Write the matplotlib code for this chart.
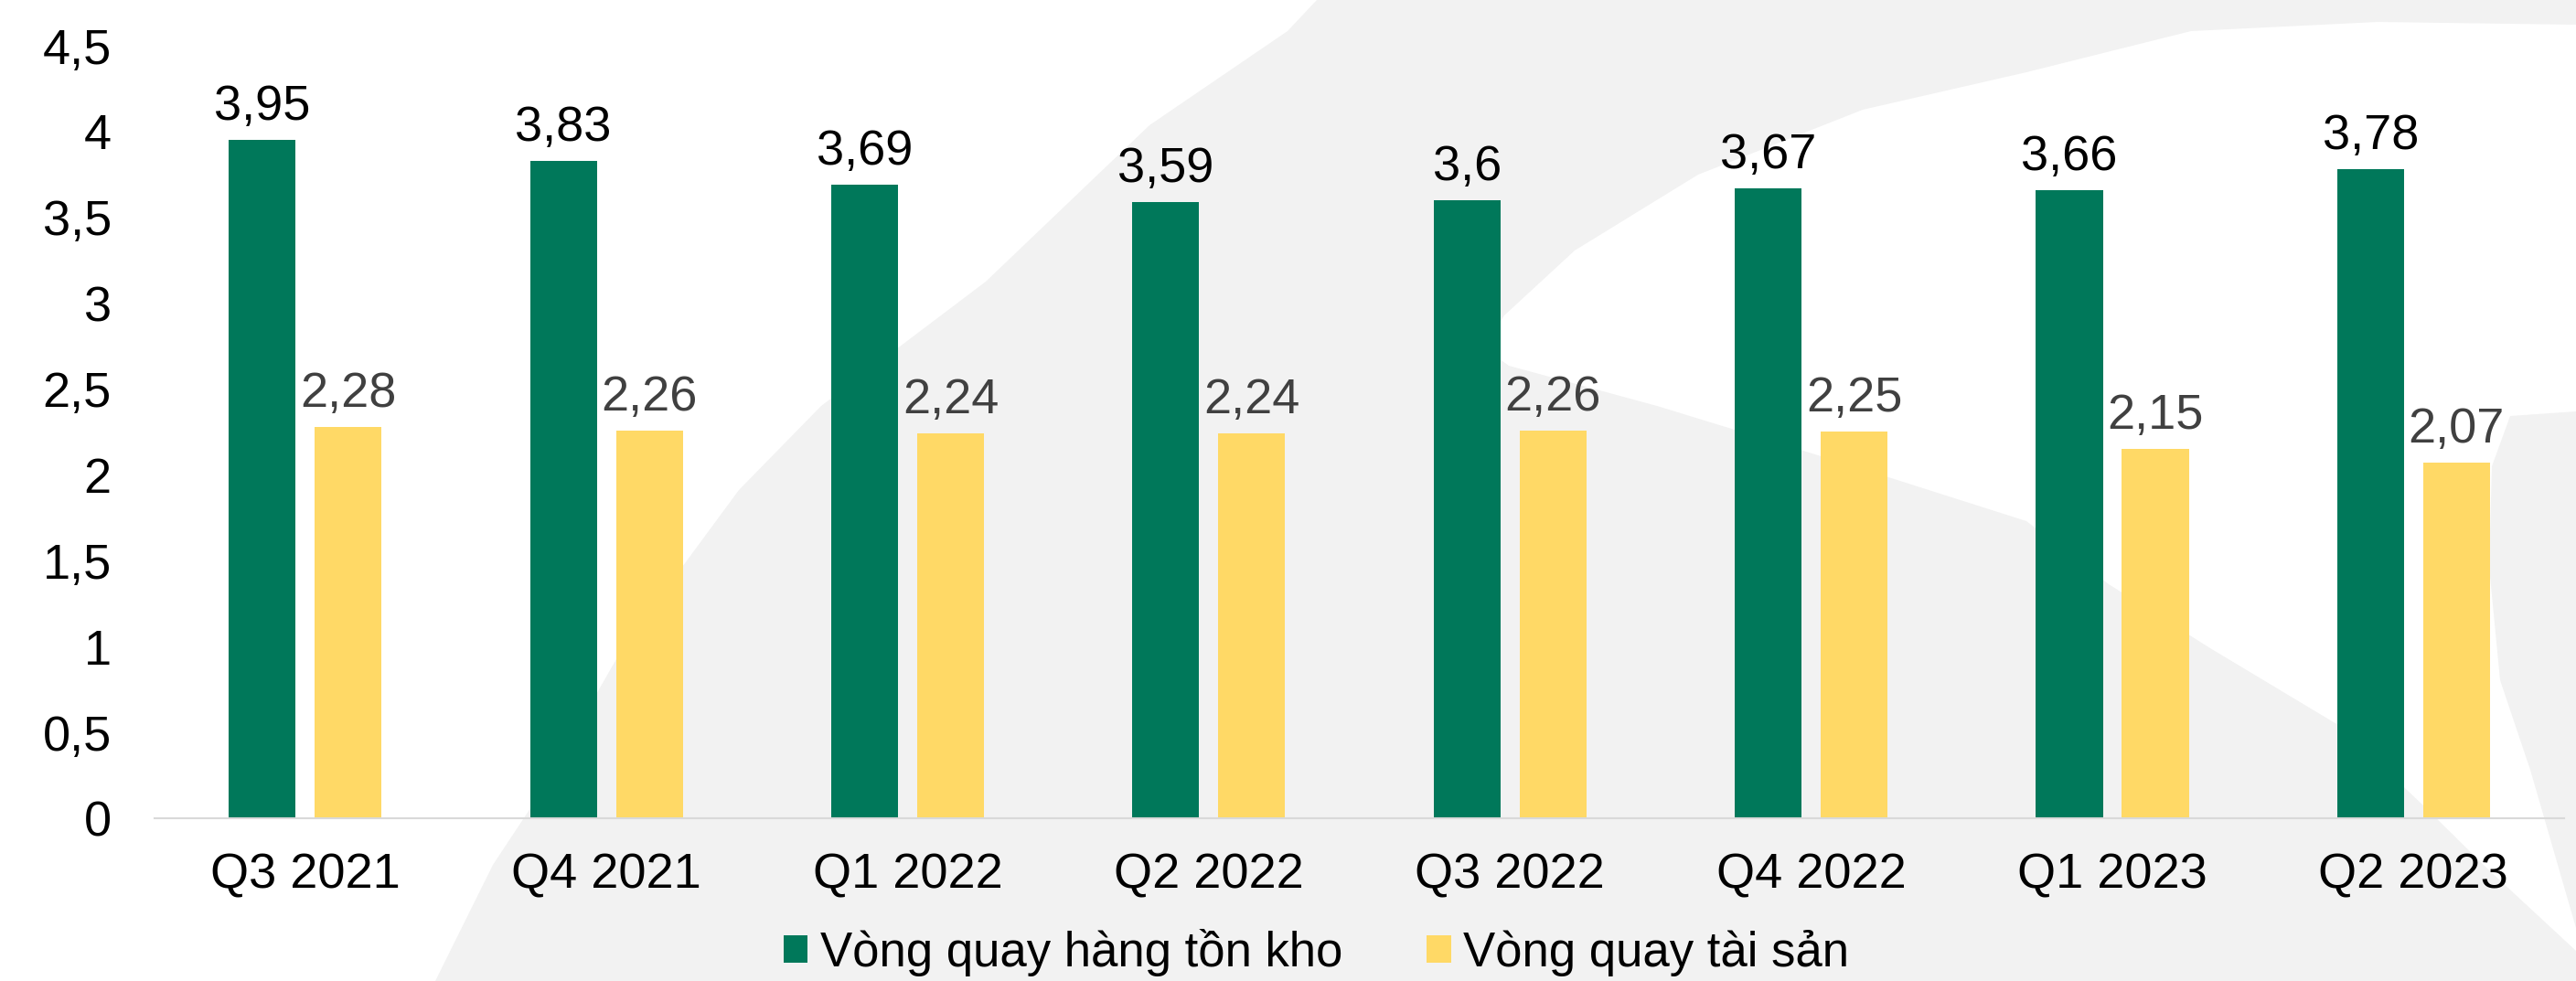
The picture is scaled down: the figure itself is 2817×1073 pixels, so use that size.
import matplotlib
matplotlib.use("Agg")
import matplotlib.pyplot as plt
from matplotlib.patches import Polygon, Patch
import numpy as np

plt.rcParams["font.family"] = ["Liberation Sans", "DejaVu Sans"]

# data
quarters = ["Q3 2021", "Q4 2021", "Q1 2022", "Q2 2022",
            "Q3 2022", "Q4 2022", "Q1 2023", "Q2 2023"]
inventory_turnover = [3.95, 3.83, 3.69, 3.59, 3.6, 3.67, 3.66, 3.78]
asset_turnover = [2.28, 2.26, 2.24, 2.24, 2.26, 2.25, 2.15, 2.07]
series_names = ["Vòng quay hàng tồn kho", "Vòng quay tài sản"]
y_ticks = [0, 0.5, 1, 1.5, 2, 2.5, 3, 3.5, 4, 4.5]

GREEN = "#00785a"
YELLOW = "#ffd966"
GRID = "#d9d9d9"
WM_GREY = "#f2f2f2"

W, H = 2817, 1073

# faint watermark swoosh in the background (pixel coords, y from top)
wm_outer = [(1440, 0), (1408, 34), (1257, 137), (1078, 308), (898, 444),
            (808, 536), (682, 707), (584, 878), (539, 946), (476, 1073),
            (2817, 1073), (2817, 0)]
wm_cut = [(2817, 27), (2600, 24), (2396, 34), (2216, 79), (2037, 120),
          (1857, 191), (1722, 274), (1645, 345), (1622, 380), (1650, 400),
          (1812, 444), (2037, 513), (2216, 570), (2306, 639), (2417, 709),
          (2557, 793), (2650, 881), (2720, 950), (2817, 1040), (2817, 1015),
          (2767, 842), (2734, 744), (2722, 620), (2725, 510), (2745, 455),
          (2817, 450)]

fig = plt.figure(figsize=(W / 100, H / 100), dpi=100)

# background layer for the watermark
bg = fig.add_axes([0, 0, 1, 1], zorder=-1)
bg.set_xlim(0, W)
bg.set_ylim(H, 0)
bg.axis("off")
bg.add_patch(Polygon(wm_outer, closed=True, facecolor=WM_GREY, edgecolor="none"))
bg.add_patch(Polygon(wm_cut, closed=True, facecolor="white", edgecolor="none"))

ax = fig.add_axes([0.0600, 0.1659, 0.9354, 0.7875], zorder=1)
ax.patch.set_alpha(0)

x = np.arange(len(quarters))
bar_w = 0.222
offset = 0.1427

b1 = ax.bar(x - offset, inventory_turnover, bar_w, color=GREEN, zorder=2)
b2 = ax.bar(x + offset, asset_turnover, bar_w, color=YELLOW, zorder=2)


def fmt(v):
    return f"{v:g}".replace(".", ",")


for rect, v in zip(b1, inventory_turnover):
    ax.annotate(fmt(v), (rect.get_x() + rect.get_width() / 2, v),
                xytext=(0, 8), textcoords="offset points",
                ha="center", va="bottom", fontsize=39, color="black")
for rect, v in zip(b2, asset_turnover):
    ax.annotate(fmt(v), (rect.get_x() + rect.get_width() / 2, v),
                xytext=(0, 8), textcoords="offset points",
                ha="center", va="bottom", fontsize=39, color="#404040")

ax.set_xlim(-0.5, len(quarters) - 0.5)
ax.set_ylim(0, 4.5)
ax.set_yticks(y_ticks)
ax.set_yticklabels([fmt(t) for t in y_ticks])
ax.set_xticks(x)
ax.set_xticklabels(quarters)
ax.tick_params(axis="y", length=0, pad=34, labelsize=39)
ax.tick_params(axis="x", length=0, pad=27, labelsize=39)

for side in ["top", "right", "left"]:
    ax.spines[side].set_visible(False)
ax.spines["bottom"].set_color(GRID)
ax.spines["bottom"].set_linewidth(1.5)

handles = [Patch(facecolor=GREEN), Patch(facecolor=YELLOW)]
fig.legend(handles, series_names, loc="center", bbox_to_anchor=(0.511, 0.029),
           ncol=2, frameon=False, fontsize=38, handlelength=0.5, handleheight=0.5,
           handletextpad=0.25, columnspacing=1.75, borderpad=0)

fig.savefig("out.png", dpi=100)
